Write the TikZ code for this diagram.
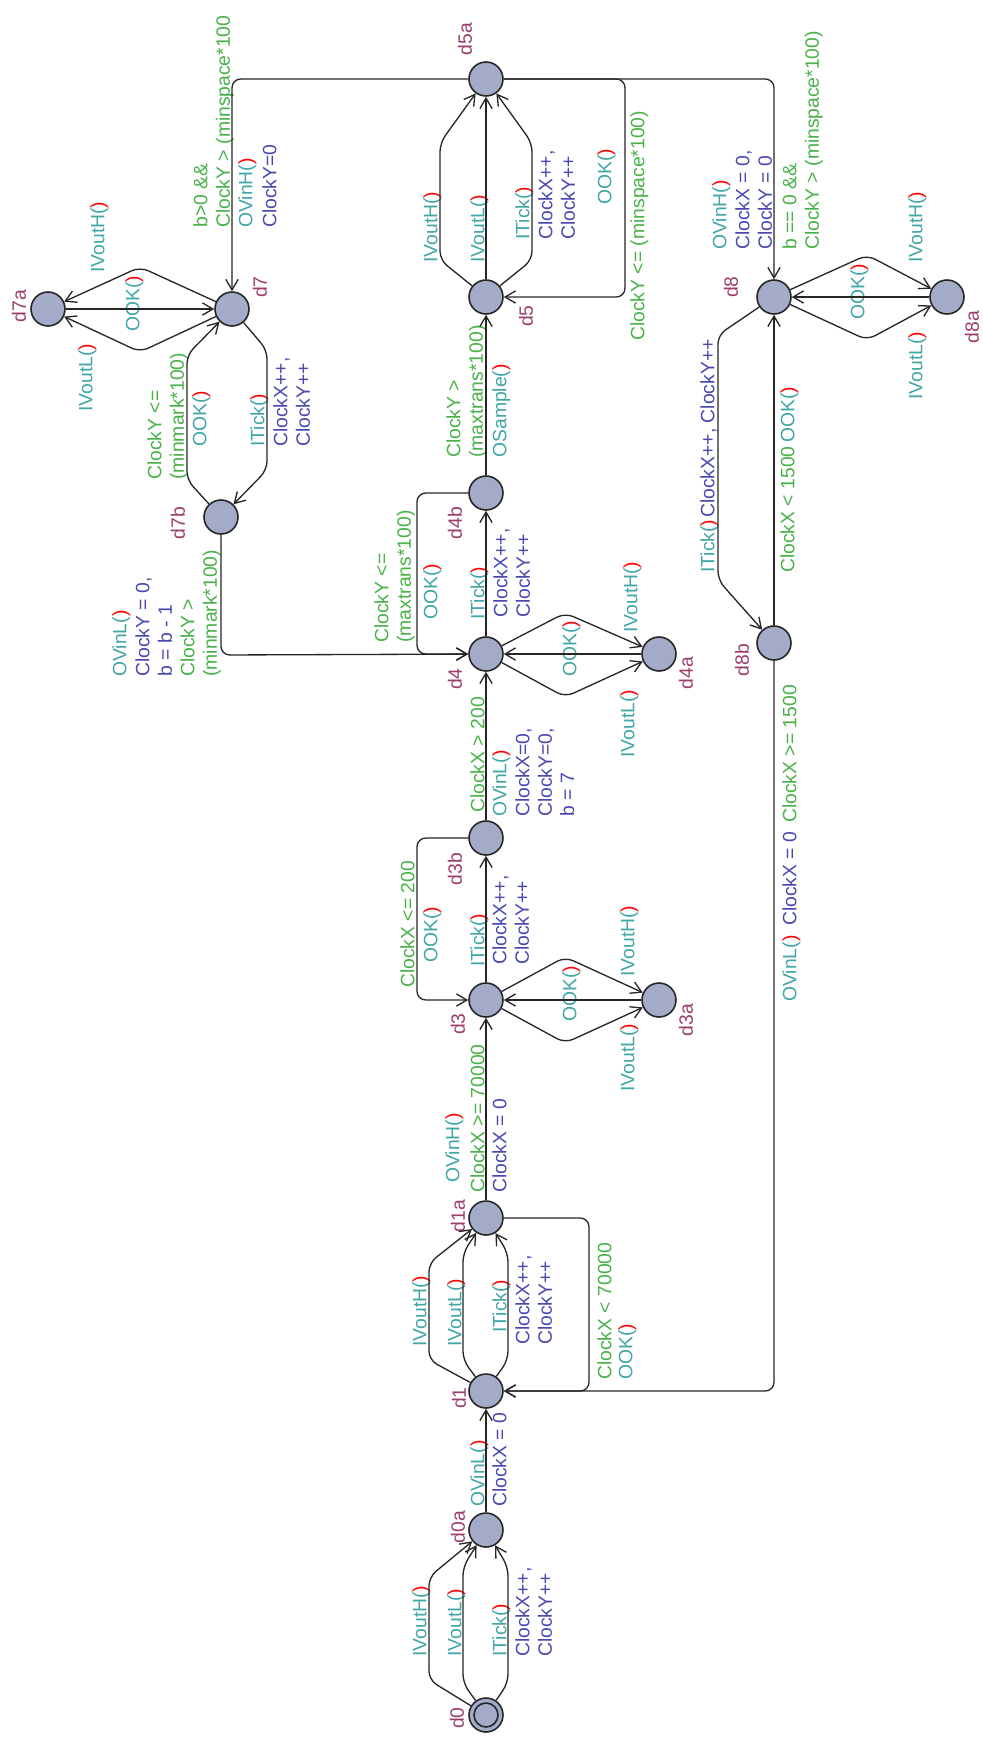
\documentclass[tikz,border=0pt]{standalone}
\usepackage{fontspec}
\setmainfont{Liberation Sans}
\usetikzlibrary{arrows.meta}

\definecolor{locfill}{RGB}{163,171,201}
\definecolor{namecol}{RGB}{156,62,108}
\definecolor{synccol}{RGB}{64,166,166}
\definecolor{guardcol}{RGB}{72,178,72}
\definecolor{updcol}{RGB}{72,72,176}
\newcommand{\redparen}{\textcolor{red}{)}}

\tikzstyle{loc} = [circle, minimum size=0.68cm, inner sep=0pt, draw=black!85, fill=locfill, line width=0.9pt]
\tikzstyle{locname} = [rotate=90, inner sep=0pt, text=namecol, font=\fontsize{11}{12.75}\selectfont]
\tikzstyle{lbl} = [rotate=90, anchor=north west, inner sep=0pt, align=left, font=\fontsize{11}{12.75}\selectfont]
\tikzstyle{sync} = [lbl, text=synccol]
\tikzstyle{guard} = [lbl, text=guardcol]
\tikzstyle{upd} = [lbl, text=updcol]
\tikzstyle{edge} = [line width=0.75pt, black!85, rounded corners=5pt, -{Straight Barb[length=6pt,width=7pt]}]

\begin{document}
\begin{tikzpicture}[x=0.02cm, y=-0.02cm]
			
			\useasboundingbox [fill=white] (0,0) rectangle (983,1738);
			
			\node (d0) [loc] at (486,1715) {};
			\node (d0in) [loc, minimum size=0.48cm] at (d0) {};
			\node (d0a) [loc] at (486,1530) {};
			\node (d1) [loc] at (486,1391) {};
			\node (d1a) [loc] at (486,1218) {};
			\node (d3) [loc] at (486,1000) {};
			\node (d3a) [loc] at (659,1000) {};
			\node (d3b) [loc] at (486,838) {};
			\node (d4) [loc] at (486,654) {};
			\node (d4a) [loc] at (659,654) {};
			\node (d4b) [loc] at (486,493) {};
			\node (d5) [loc] at (486,297) {};
			\node (d5a) [loc] at (486,79) {};
			\node (d7) [loc] at (232,309) {};
			\node (d7a) [loc] at (48,309) {};
			\node (d7b) [loc] at (221,517) {};
			\node (d8) [loc] at (774,297) {};
			\node (d8a) [loc] at (947,297) {};
			\node (d8b) [loc] at (774,643) {};
			
			\node (n0) [locname] at (457,1718) {d0};
			\node (n0a) [locname] at (458,1527) {d0a};
			\node (n1) [locname] at (459,1398) {d1};
			\node (n1a) [locname] at (458,1216) {d1a};
			\node (n3) [locname] at (458,1024) {d3};
			\node (n3a) [locname] at (686,1020) {d3a};
			\node (n3b) [locname] at (455,869) {d3b};
			\node (n4) [locname] at (455,679) {d4};
			\node (n4a) [locname] at (686,673) {d4a};
			\node (n4b) [locname] at (455,523) {d4b};
			\node (n5) [locname] at (526,316) {d5};
			\node (n5a) [locname] at (465,39) {d5a};
			\node (n7) [locname] at (260,287) {d7};
			\node (n7a) [locname] at (19,306) {d7a};
			\node (n7b) [locname] at (178,523) {d7b};
			\node (n8) [locname] at (731,287) {d8};
			\node (n8a) [locname] at (972,327) {d8a};
			\node (n8b) [locname] at (742,660) {d8b};
			
			\node (t0H) [sync] at (412,1657) {IVoutH(\redparen};
			\node (t0L) [sync] at (447,1657) {IVoutL(\redparen};
			\node (t0T) [sync] at (492,1657) {ITick(\redparen};
			\node (t0Tu) [upd] at (515,1657) {ClockX++,\\ClockY++};
			\node (t0aS) [sync] at (470,1507) {OVinL(\redparen};
			\node (t0aU) [upd] at (492,1507) {ClockX = 0};
			
			\node (t1H) [sync] at (412,1347) {IVoutH(\redparen};
			\node (t1L) [sync] at (447,1347) {IVoutL(\redparen};
			\node (t1T) [sync] at (492,1333) {ITick(\redparen};
			\node (t1Tu) [upd] at (515,1345) {ClockX++,\\ClockY++};
			\node (t1aG) [guard] at (597,1380) {ClockX < 70000};
			\node (t1aS) [sync] at (618,1380) {OOK(\redparen};
			\node (t2S) [sync] at (445,1183) {OVinH(\redparen};
			\node (t2G) [guard] at (470,1193) {ClockX >= 70000};
			\node (t2U) [upd] at (492,1193) {ClockX = 0};
			
			\node (t3K) [sync] at (562,1022) {OOK(\redparen};
			\node (t3H) [sync] at (620,977) {IVoutH(\redparen};
			\node (t3L) [sync] at (620,1092) {IVoutL(\redparen};
			\node (t3T) [sync] at (470,967) {ITick(\redparen};
			\node (t3Tu) [upd] at (492,965) {ClockX++,\\ClockY++};
			\node (t3bG) [guard] at (400,988) {ClockX <= 200};
			\node (t3bS) [sync] at (423,963) {OOK(\redparen};
			\node (t4G) [guard] at (470,813) {ClockX > 200};
			\node (t4S) [sync] at (492,817) {OVinL(\redparen};
			\node (t4U) [upd] at (515,817) {ClockX=0,\\ClockY=0,\\b = 7};
			
			\node (t4K) [sync] at (562,677) {OOK(\redparen};
			\node (t4H) [sync] at (623,633) {IVoutH(\redparen};
			\node (t4L) [sync] at (620,758) {IVoutL(\redparen};
			\node (t4T) [sync] at (470,620) {ITick(\redparen};
			\node (t4Tu) [upd] at (493,618) {ClockX++,\\ClockY++};
			\node (t4bG) [guard] at (374,643) {ClockY <=\\(maxtrans*100)};
			\node (t4bS) [sync] at (423,620) {OOK(\redparen};
			\node (t5G) [guard] at (446,458) {ClockY >\\(maxtrans*100)};
			\node (t5S) [sync] at (492,458) {OSample(\redparen};
			
			\node (t5H) [sync] at (423,263) {IVoutH(\redparen};
			\node (t5L) [sync] at (470,263) {IVoutL(\redparen};
			\node (t5T) [sync] at (515,240) {ITick(\redparen};
			\node (t5Tu) [upd] at (538,240) {ClockX++,\\ClockY++};
			\node (t5aS) [sync] at (597,205) {OOK(\redparen};
			\node (t5aG) [guard] at (630,341) {ClockY <= (minspace*100)};
			
			\node (t7G) [guard] at (193,228) {b>0 \&\&\\ClockY > (minspace*100};
			\node (t7S) [sync] at (238,228) {OVinH(\redparen};
			\node (t7U) [upd] at (262,228) {ClockY=0};
			\node (t7H) [sync] at (90,273) {IVoutH(\redparen};
			\node (t7K) [sync] at (125,332) {OOK(\redparen};
			\node (t7L) [sync] at (78,412) {IVoutL(\redparen};
			\node (t7T) [sync] at (250,447) {ITick(\redparen};
			\node (t7Tu) [upd] at (273,447) {ClockX++,\\ClockY++};
			\node (t7bG) [guard] at (147,480) {ClockY <=\\(minmark*100)};
			\node (t7bS) [sync] at (192,447) {OOK(\redparen};
			\node (t7bS2) [sync] at (112,677) {OVinL(\redparen};
			\node (t7bU) [upd] at (135,677) {ClockY = 0,\\b = b - 1};
			\node (t7bG2) [guard] at (180,677) {ClockY >\\(minmark*100)};
			
			\node (t8S) [sync] at (712,250) {OVinH(\redparen};
			\node (t8U) [upd] at (735,250) {ClockX = 0,\\ClockY = 0};
			\node (t8G) [guard] at (782,250) {b == 0 \&\&\\ClockY > (minspace*100)};
			\node (t8K) [sync] at (850,320) {OOK(\redparen};
			\node (t8H) [sync] at (908,263) {IVoutH(\redparen};
			\node (t8L) [sync] at (908,400) {IVoutL(\redparen};
			\node (t8T) [sync] at (700,573) {ITick(\redparen};
			\node (t8Tu) [upd] at (700,518) {ClockX++, ClockY++};
			\node (t8bG) [guard] at (780,573) {ClockX < 1500};
			\node (t8bS) [sync] at (780,443) {OOK(\redparen};
			\node (t8bS2) [sync] at (782,1002) {OVinL(\redparen};
			\node (t8bU) [upd] at (782,926) {ClockX = 0};
			\node (t8bG2) [guard] at (782,823) {ClockX >= 1500};
			
			\draw [edge] (d0) -- (429,1680) -- (429,1577) -- (d0a);
			\draw [edge] (d0) -- (463,1683) -- (463,1567) -- (d0a);
			\draw [edge] (d0) -- (508,1683) -- (508,1567) -- (d0a);
			\draw [edge] (d0a) -- (d1);
			\draw [edge] (d1) -- (429,1360) -- (429,1263) -- (d1a);
			\draw [edge] (d1) -- (463,1360) -- (463,1253) -- (d1a);
			\draw [edge] (d1) -- (508,1360) -- (508,1253) -- (d1a);
			\draw [edge] (d1a) -- (589,1218) -- (589,1391) -- (d1);
			\draw [edge] (d1a) -- (d3);
			\draw [edge] (d3) -- (565,957) -- (d3a);
			\draw [edge] (d3a) -- (d3);
			\draw [edge] (d3) -- (565,1043) -- (d3a);
			\draw [edge] (d3) -- (d3b);
			\draw [edge] (d3b) -- (417,838) -- (417,1000) -- (d3);
			\draw [edge] (d3b) -- (d4);
			\draw [edge] (d4) -- (565,613) -- (d4a);
			\draw [edge] (d4a) -- (d4);
			\draw [edge] (d4) -- (565,697) -- (d4a);
			\draw [edge] (d4) -- (d4b);
			\draw [edge] (d4b) -- (417,493) -- (417,654) -- (d4);
			\draw [edge] (d4b) -- (d5);
			\draw [edge] (d5) -- (440,260) -- (440,143) -- (d5a);
			\draw [edge] (d5) -- (d5a);
			\draw [edge] (d5) -- (532,260) -- (532,143) -- (d5a);
			\draw [edge] (d5a) -- (625,79) -- (625,297) -- (d5);
			\draw [edge] (d5a) -- (232,79) -- (d7);
			\draw [edge] (d5a) -- (774,79) -- (d8);
			\draw [edge] (d7) -- (140,267) -- (d7a);
			\draw [edge] (d7a) -- (d7);
			\draw [edge] (d7) -- (140,352) -- (d7a);
			\draw [edge] (d7) -- (267,350) -- (267,470) -- (d7b);
			\draw [edge] (d7b) -- (187,480) -- (187,355) -- (d7);
			\draw [edge] (d7b) -- (221,655) -- (d4);
			\draw [edge] (d8) -- (867,255) -- (d8a);
			\draw [edge] (d8a) -- (d8);
			\draw [edge] (d8) -- (867,340) -- (d8a);
			\draw [edge] (d8) -- (718,335) -- (718,580) -- (d8b);
			\draw [edge] (d8b) -- (d8);
			\draw [edge] (d8b) -- (774,1391) -- (d1);
			
		\end{tikzpicture}
\end{document}
